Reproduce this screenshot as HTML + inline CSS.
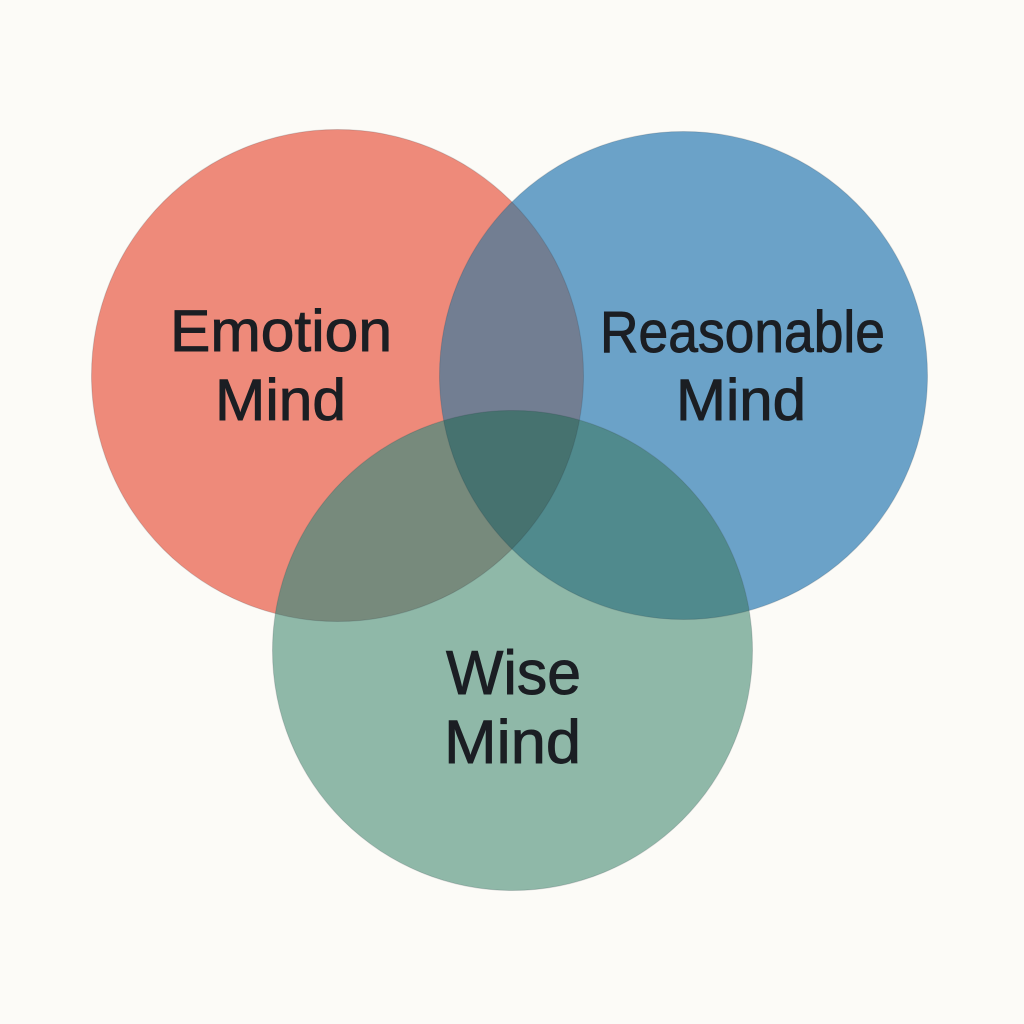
<!DOCTYPE html>
<html>
<head>
<meta charset="utf-8">
<style>
  html, body { margin: 0; padding: 0; background: #FCFBF7; }
  svg { display: block; }
  .t { font-family: "Liberation Sans", "DejaVu Sans", sans-serif; fill: #1b1e23; stroke: #1b1e23; stroke-width: 0.9px; }
</style>
</head>
<body>
<svg width="1024" height="1024" viewBox="0 0 1024 1024" xmlns="http://www.w3.org/2000/svg">
  <defs>
    <clipPath id="cR"><circle cx="337.5" cy="375.5" r="246"/></clipPath>
    <clipPath id="cB"><circle cx="683.5" cy="375.5" r="244"/></clipPath>
  </defs>
  <rect width="1024" height="1024" fill="#FCFBF7"/>

  <!-- base circles -->
  <circle cx="337.5" cy="375.5" r="246" fill="#EE8A7A"/>
  <circle cx="683.5" cy="375.5" r="244" fill="#6BA2C8"/>
  <circle cx="512.5" cy="650.5" r="240" fill="#8FB8A8"/>

  <!-- pairwise overlaps -->
  <circle cx="683.5" cy="375.5" r="244" fill="#727E92" clip-path="url(#cR)"/>
  <circle cx="512.5" cy="650.5" r="240" fill="#778A7C" clip-path="url(#cR)"/>
  <circle cx="512.5" cy="650.5" r="240" fill="#508A8D" clip-path="url(#cB)"/>

  <!-- triple overlap -->
  <g clip-path="url(#cR)">
    <circle cx="512.5" cy="650.5" r="240" fill="#46726F" clip-path="url(#cB)"/>
  </g>

  <!-- subtle outlines -->
  <g fill="none" stroke="rgba(40,50,60,0.18)" stroke-width="1">
    <circle cx="337.5" cy="375.5" r="246"/>
    <circle cx="683.5" cy="375.5" r="244"/>
    <circle cx="512.5" cy="650.5" r="240"/>
  </g>

  <!-- labels -->
  <text class="t" x="170" y="351" font-size="58" textLength="222" lengthAdjust="spacingAndGlyphs">Emotion</text>
  <text class="t" x="215" y="420" font-size="58" textLength="131" lengthAdjust="spacingAndGlyphs">Mind</text>

  <text class="t" x="600" y="352" font-size="58" textLength="285" lengthAdjust="spacingAndGlyphs">Reasonable</text>
  <text class="t" x="676" y="420" font-size="58" textLength="130" lengthAdjust="spacingAndGlyphs">Mind</text>

  <text class="t" x="446" y="694" font-size="62" textLength="135" lengthAdjust="spacingAndGlyphs">Wise</text>
  <text class="t" x="444" y="763" font-size="61" textLength="137" lengthAdjust="spacingAndGlyphs">Mind</text>
</svg>
</body>
</html>
